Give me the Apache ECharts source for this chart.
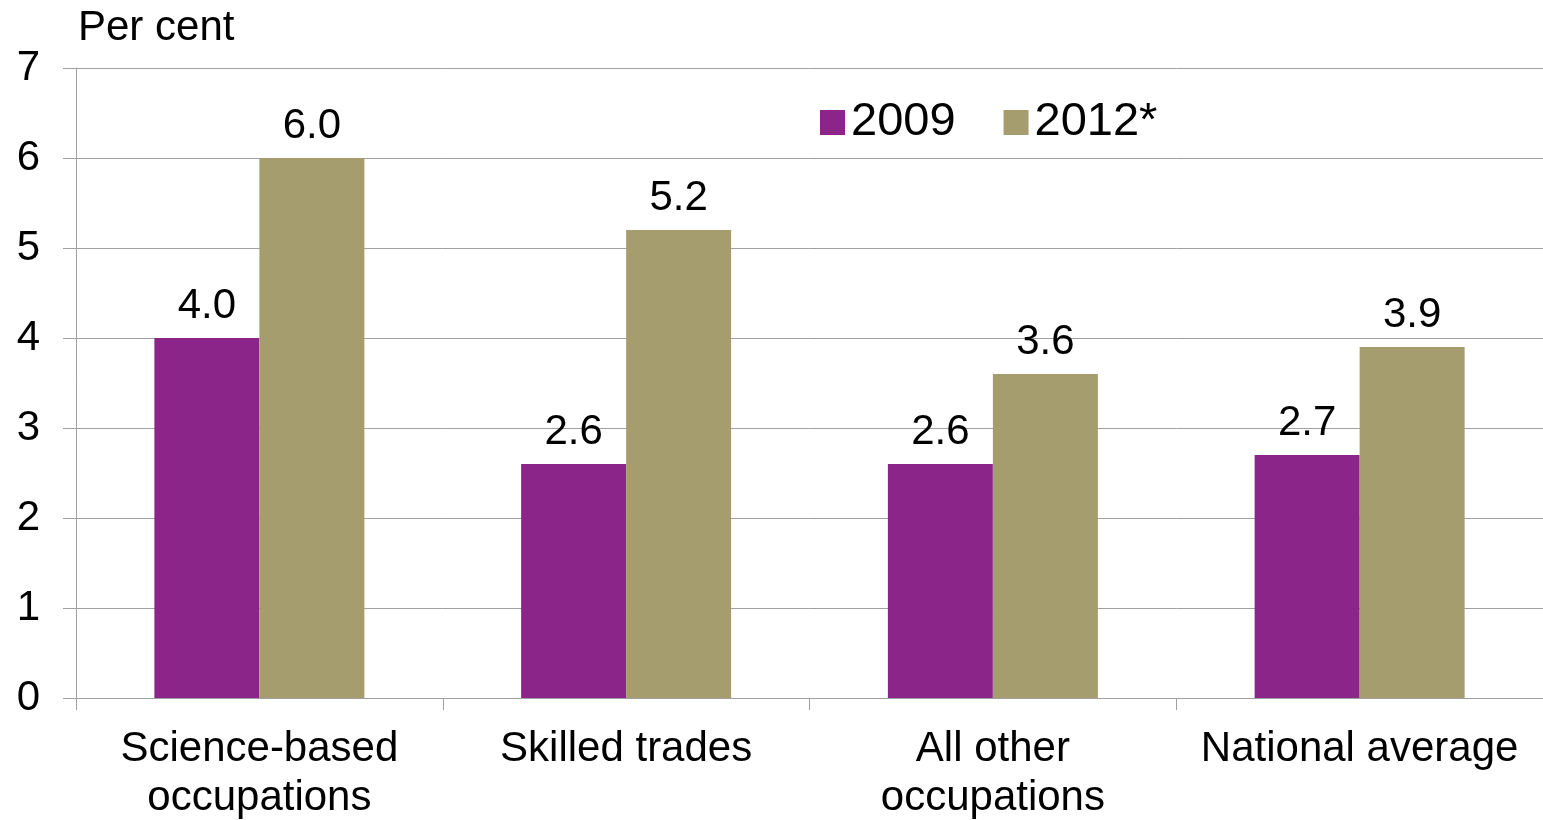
<!DOCTYPE html>
<html>
<head>
<meta charset="utf-8">
<title>Per cent by occupation group</title>
<script src="https://cdn.jsdelivr.net/npm/echarts@6/dist/echarts.min.js"></script>
<style>
  html, body { margin: 0; padding: 0; background: #fff; }
  #chart { width: 1543px; height: 820px; }
</style>
</head>
<body>
<div id="chart"></div>
<script>
// Occupation groups along the x axis
const categories = ['Science-based\noccupations', 'Skilled trades', 'All other\noccupations', 'National average'];
// Values per year, in per cent
const values2009 = [4.0, 2.6, 2.6, 2.7];
const values2012 = [6.0, 5.2, 3.6, 3.9];
const seriesNames = ['2009', '2012*'];
const yTicks = { min: 0, max: 7, interval: 1 };

const FONT = '"Liberation Sans", Arial, sans-serif';
const GRID_GREY = '#a0a0a0';

const chart = echarts.init(document.getElementById('chart'), null, { renderer: 'canvas' });

const valueLabel = {
  show: true,
  position: 'top',
  distance: 11,
  color: '#000',
  fontFamily: FONT,
  fontSize: 42,
  lineHeight: 42,
  formatter: p => p.value.toFixed(1)
};

chart.setOption({
  animation: false,
  backgroundColor: '#fff',
  textStyle: { fontFamily: FONT },
  graphic: [{
    type: 'text',
    left: 78,
    top: 7,
    style: { text: 'Per cent', fontFamily: FONT, fontSize: 42, fill: '#000' }
  }],
  legend: {
    data: seriesNames,
    left: 815,
    top: 94,
    icon: 'rect',
    itemWidth: 25,
    itemHeight: 25,
    itemGap: 48,
    textStyle: { fontFamily: FONT, fontSize: 47, color: '#000', padding: [0, 0, 0, 1] }
  },
  grid: { left: 76, right: 0, top: 68, bottom: 122, containLabel: false, outerBoundsMode: 'none' },
  xAxis: {
    type: 'category',
    data: categories,
    axisLine: { show: true, lineStyle: { color: GRID_GREY, width: 1 } },
    axisTick: { show: true, alignWithLabel: false, length: 12, lineStyle: { color: GRID_GREY } },
    axisLabel: {
      color: '#000',
      fontFamily: FONT,
      fontSize: 42,
      lineHeight: 49,
      margin: 27,
      interval: 0
    }
  },
  yAxis: {
    type: 'value',
    min: yTicks.min,
    max: yTicks.max,
    interval: yTicks.interval,
    axisLine: { show: true, lineStyle: { color: GRID_GREY, width: 1 } },
    axisTick: { show: true, length: 13, lineStyle: { color: GRID_GREY } },
    splitLine: { show: true, lineStyle: { color: GRID_GREY, width: 1 } },
    axisLabel: { color: '#000', fontFamily: FONT, fontSize: 42, margin: 36 }
  },
  series: [
    {
      name: seriesNames[0],
      type: 'bar',
      data: values2009,
      barWidth: 105,
      barGap: '0%',
      itemStyle: { color: '#8b258a' },
      label: valueLabel
    },
    {
      name: seriesNames[1],
      type: 'bar',
      data: values2012,
      barWidth: 105,
      barGap: '0%',
      itemStyle: { color: '#a69d6e' },
      label: valueLabel
    }
  ]
});
</script>
</body>
</html>
